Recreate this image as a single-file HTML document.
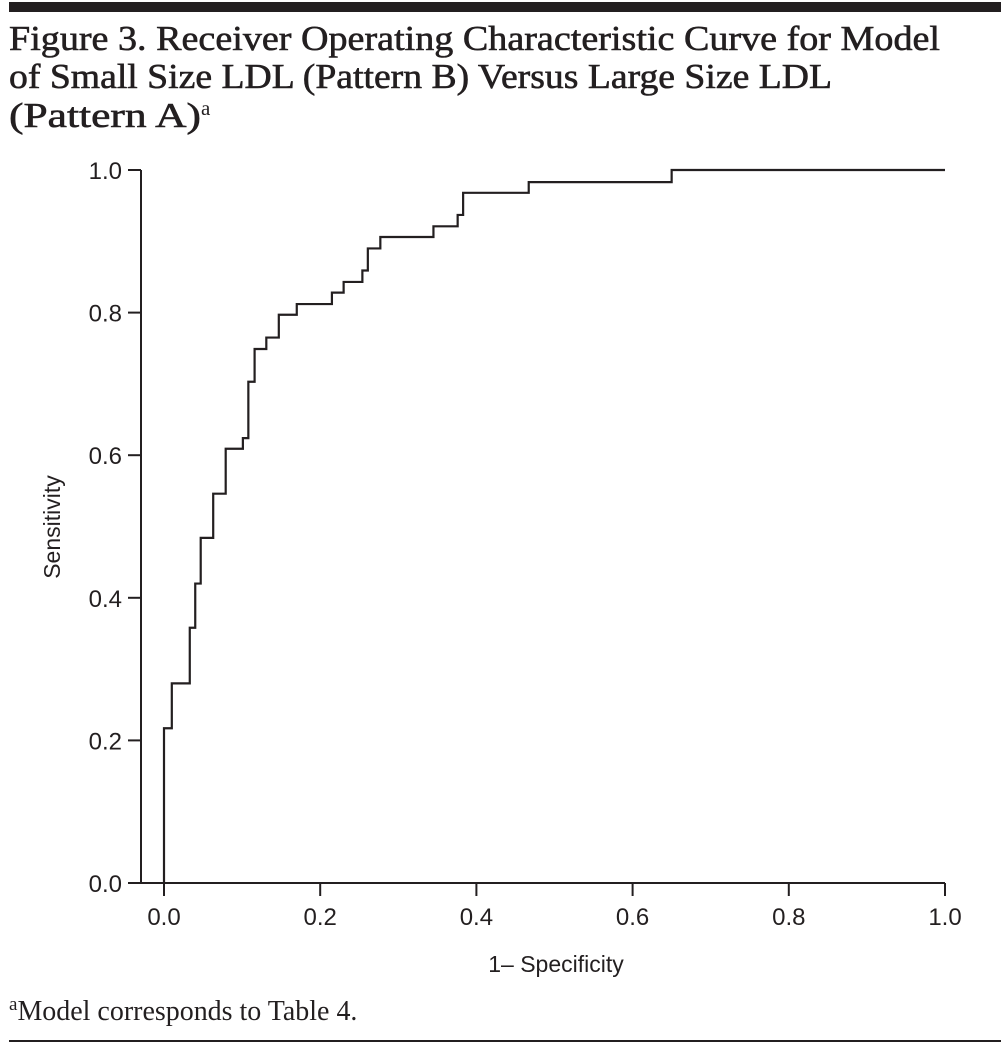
<!DOCTYPE html>
<html><head><meta charset="utf-8"><style>
body{margin:0;background:#fff;width:1001px;height:1048px;overflow:hidden;position:relative}
svg{position:absolute;left:0;top:0}
</style></head><body>
<svg width="1001" height="1048">
<rect x="9" y="2" width="992" height="10" fill="#231f20"/>
<g font-family="Liberation Serif, serif" font-size="35" fill="#231f20" stroke="#231f20" stroke-width="0.6">
<text x="9" y="50" textLength="931" lengthAdjust="spacingAndGlyphs">Figure 3. Receiver Operating Characteristic Curve for Model</text>
<text x="9" y="88" textLength="823" lengthAdjust="spacingAndGlyphs">of Small Size LDL (Pattern B) Versus Large Size LDL</text>
<text x="9" y="127"><tspan textLength="192" lengthAdjust="spacingAndGlyphs">(Pattern A)</tspan><tspan font-size="21" dy="-12" stroke-width="0">a</tspan></text>
</g>
<g id="chart" stroke="#231f20" fill="none" stroke-width="2"></g>
<text x="60" y="527" transform="rotate(-90 60 527)" text-anchor="middle" font-family="Liberation Sans, sans-serif" font-size="23" fill="#231f20">Sensitivity</text>
<text x="556" y="972" text-anchor="middle" font-family="Liberation Sans, sans-serif" font-size="23" fill="#231f20">1– Specificity</text>
<text x="9" y="1020" font-family="Liberation Serif, serif" font-size="28" fill="#231f20"><tspan font-size="19" dy="-10">a</tspan><tspan dy="10" textLength="340" lengthAdjust="spacingAndGlyphs">Model corresponds to Table 4.</tspan></text>
<rect x="9" y="1040" width="992" height="2" fill="#231f20"/>
</svg>
<script>
const xTicks=[0,0.2,0.4,0.6,0.8,1.0];
const yTicks=[0,0.2,0.4,0.6,0.8,1.0];
const fpr=[0,0.01,0.033,0.04,0.047,0.063,0.079,0.101,0.108,0.116,0.131,0.147,0.17,0.215,0.23,0.254,0.261,0.277,0.345,0.376,0.383,0.467,0.65,1.0];
const tpr=[0.217,0.28,0.358,0.42,0.484,0.546,0.609,0.624,0.703,0.749,0.765,0.797,0.812,0.828,0.843,0.859,0.89,0.906,0.921,0.937,0.968,0.983,1.0,1.0];
const sx=v=>164+v*781, sy=v=>883-v*713;
const NS='http://www.w3.org/2000/svg';
const g=document.getElementById('chart');
function mk(t,a){const e=document.createElementNS(NS,t);for(const k in a)e.setAttribute(k,a[k]);g.appendChild(e);return e;}
let ya=mk('line',{x1:141,y1:sy(1),x2:141,y2:883});


let xa=mk('line',{x1:128,y1:883,x2:945,y2:883});


yTicks.forEach(v=>{
 let t=mk('line',{x1:128,y1:sy(v),x2:141,y2:sy(v)});
 
 
 let l=mk('text',{x:122,y:sy(v)+9,'text-anchor':'end','font-family':'Liberation Sans, sans-serif','font-size':24,fill:'#231f20',stroke:'none'});
 l.textContent=v.toFixed(1);
 
 
});
xTicks.forEach(v=>{
 let t=mk('line',{x1:sx(v),y1:883,x2:sx(v),y2:896});
 
 
 let l=mk('text',{x:sx(v),y:925,'text-anchor':'middle','font-family':'Liberation Sans, sans-serif','font-size':24,fill:'#231f20',stroke:'none'});
 l.textContent=v.toFixed(1);
 
 
});
let d='M'+sx(fpr[0])+' '+sy(0);
for(let i=0;i<fpr.length;i++){d+=' H'+sx(fpr[i])+' V'+sy(tpr[i]);}
let p=mk('path',{d:d,'stroke-width':2.2});


</script>
</body></html>
